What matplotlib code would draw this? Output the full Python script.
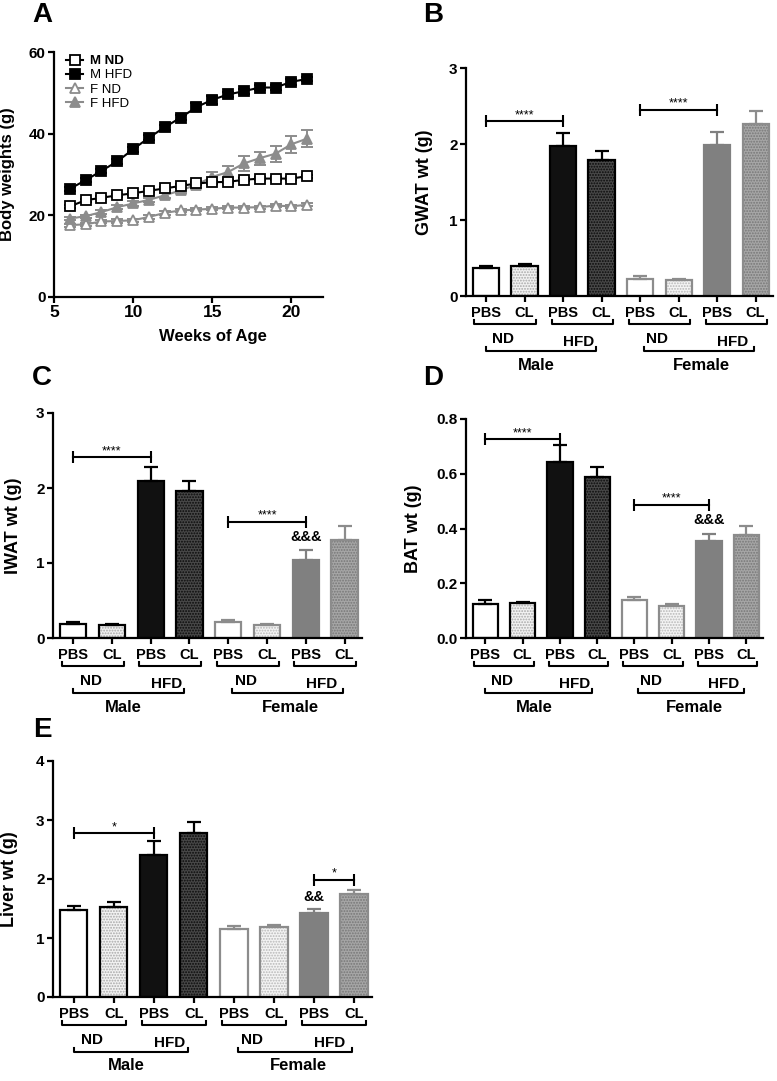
"""Body weight time course and tissue weights (PBS vs CL, ND vs HFD, male/female)."""
import matplotlib

matplotlib.use("Agg")
import matplotlib.pyplot as plt
from matplotlib.lines import Line2D
from matplotlib.ticker import FormatStrFormatter

W, H, DPI = 777, 1081, 100

# --------------------------------------------------------------------------- #
# Data
# --------------------------------------------------------------------------- #
weeks = [6, 7, 8, 9, 10, 11, 12, 13, 14, 15, 16, 17, 18, 19, 20, 21]
m_nd = [22.2, 23.7, 24.3, 24.9, 25.4, 26.0, 26.6, 27.2, 27.8, 28.1, 28.2, 28.7, 29.0, 29.0, 29.0, 29.6]
m_nd_err = [0.4, 0.4, 0.4, 0.4, 0.4, 0.4, 0.4, 0.4, 0.4, 0.4, 0.4, 0.4, 0.4, 0.4, 0.4, 0.4]
m_hfd = [26.5, 28.6, 30.9, 33.2, 36.2, 39.0, 41.6, 43.9, 46.5, 48.3, 49.6, 50.4, 51.3, 51.3, 52.7, 53.4]
m_hfd_err = [0.5, 0.5, 0.5, 0.6, 0.6, 0.6, 0.6, 0.6, 1.0, 1.0, 0.7, 0.6, 0.6, 0.6, 0.7, 0.6]
f_nd = [17.6, 17.8, 18.5, 18.6, 18.8, 19.6, 20.6, 21.2, 21.4, 21.6, 21.9, 21.9, 22.0, 22.4, 22.2, 22.6]
f_nd_err = [0.4, 0.4, 0.4, 0.4, 0.4, 0.4, 0.4, 0.4, 0.4, 0.4, 0.4, 0.4, 0.4, 0.4, 0.4, 0.4]
f_hfd = [19.2, 19.8, 20.8, 22.0, 22.9, 23.8, 24.9, 26.1, 27.5, 29.4, 30.6, 32.7, 34.0, 35.1, 37.4, 38.8]
f_hfd_err = [0.4, 0.4, 0.5, 0.5, 0.5, 0.5, 0.6, 0.7, 0.9, 1.3, 1.5, 1.8, 1.6, 2.0, 2.1, 2.0]

bar_labels = ["PBS", "CL", "PBS", "CL", "PBS", "CL", "PBS", "CL"]
diet_labels = ["ND", "HFD", "ND", "HFD"]
sex_labels = ["Male", "Female"]

gwat = [0.37, 0.40, 1.97, 1.79, 0.23, 0.21, 1.99, 2.26]
gwat_err = [0.03, 0.02, 0.17, 0.12, 0.03, 0.01, 0.17, 0.18]
iwat = [0.19, 0.17, 2.10, 1.96, 0.21, 0.18, 1.04, 1.31]
iwat_err = [0.02, 0.02, 0.18, 0.14, 0.03, 0.01, 0.14, 0.18]
bat = [0.125, 0.127, 0.642, 0.589, 0.139, 0.118, 0.356, 0.377]
bat_err = [0.012, 0.006, 0.062, 0.034, 0.011, 0.006, 0.024, 0.031]
liver = [1.48, 1.53, 2.40, 2.78, 1.16, 1.18, 1.42, 1.74]
liver_err = [0.06, 0.08, 0.25, 0.18, 0.05, 0.04, 0.07, 0.07]

# (bar i, bar j, y, label)
gwat_sig = [(0, 2, 2.30, "****"), (4, 6, 2.45, "****")]
iwat_sig = [(0, 2, 2.41, "****"), (4, 6, 1.55, "****")]
bat_sig = [(0, 2, 0.727, "****"), (4, 6, 0.487, "****")]
liver_sig = [(0, 2, 2.78, "*"), (6, 7, 1.99, "*")]
iwat_marks = [(6, 1.35, "&&&")]
bat_marks = [(6, 0.43, "&&&")]
liver_marks = [(6, 1.70, "&&")]

# --------------------------------------------------------------------------- #
# Styling
# --------------------------------------------------------------------------- #
GREY = "#8c8c8c"
bar_face = ["white", "#f2f2f2", "#111111", "#484848", "white", "#f4f4f4", "#808080", "#a6a6a6"]
bar_edge = ["black", "black", "black", "black", GREY, GREY, "#808080", GREY]
bar_dots = [None, "#a8a8a8", None, "#0a0a0a", None, "#b8b8b8", None, "#777777"]

plt.rcParams.update({
    "font.family": ["Liberation Sans", "DejaVu Sans"],
    "font.weight": "bold",
    "axes.labelweight": "bold",
    "axes.linewidth": 1.6,
    "xtick.major.width": 1.6,
    "ytick.major.width": 1.6,
    "xtick.major.size": 4,
    "ytick.major.size": 4,
    "hatch.linewidth": 0.9,
})

fig = plt.figure(figsize=(W / DPI, H / DPI), dpi=DPI)


def px_axes(left, top, right, bottom):
    return fig.add_axes([left / W, 1 - bottom / H, (right - left) / W, (bottom - top) / H])


def yfrac(ax, off):
    """Pixel offset below the x axis -> axes-fraction y."""
    return -off / (ax.get_position().height * H)


def style_axes(ax):
    ax.spines["top"].set_visible(False)
    ax.spines["right"].set_visible(False)


def panel_letter(x, y, s):
    fig.text(x / W, 1 - y / H, s, fontsize=20, fontweight="bold", ha="center", va="center")


# --------------------------------------------------------------------------- #
# A: body weight curves
# --------------------------------------------------------------------------- #
axA = px_axes(54, 52, 323, 297)
style_axes(axA)
series = [
    (f_nd, f_nd_err, GREY, "^", "white", "F ND"),
    (f_hfd, f_hfd_err, GREY, "^", GREY, "F HFD"),
    (m_nd, m_nd_err, "black", "s", "white", "M ND"),
    (m_hfd, m_hfd_err, "black", "s", "black", "M HFD"),
]
handles = {}
for vals, errs, col, mk, face, lab in series:
    axA.errorbar(weeks, vals, yerr=errs, fmt="none", ecolor=col, elinewidth=1.4,
                 capsize=4, capthick=1.4, zorder=2)
    axA.plot(weeks, vals, color=col, lw=1.5, marker=mk, ms=6.5,
             mfc=face, mec=col, mew=1.3, zorder=3)
    handles[lab] = Line2D([], [], color=col, lw=1.5, marker=mk, ms=6.5,
                          mfc=face, mec=col, mew=1.3)
axA.set_xlim(5, 22)
axA.set_ylim(0, 60)
axA.set_xticks([5, 10, 15, 20])
axA.set_yticks([0, 20, 40, 60])
axA.tick_params(axis="x", labelsize=12.5, pad=2)
axA.tick_params(axis="y", labelsize=11, pad=2)
axA.set_ylabel("Body weights (g)", fontsize=12)
axA.yaxis.set_label_coords((15 - 54) / 269, 0.5)
fig.text(213 / W, 1 - 337 / H, "Weeks of Age", fontsize=12, fontweight="bold",
         ha="center", va="center")
order = ["M ND", "M HFD", "F ND", "F HFD"]
leg = axA.legend([handles[k] for k in order], order, loc="upper left",
                 bbox_to_anchor=(66 / W, 1 - 55 / H), bbox_transform=fig.transFigure,
                 frameon=False, fontsize=9.5, handlelength=1.3, handletextpad=0.5,
                 labelspacing=0.15, borderpad=0, borderaxespad=0, numpoints=1)
for i, t in enumerate(leg.get_texts()):
    t.set_fontweight("bold" if i == 0 else "normal")


# --------------------------------------------------------------------------- #
# Bar panels
# --------------------------------------------------------------------------- #
def bar_panel(ax, vals, errs, ymax, yticks, ylabel, label_dx, sig, marks, fmt=None):
    style_axes(ax)
    xs = list(range(len(vals)))
    width = 0.68
    for i, (v, e) in enumerate(zip(vals, errs)):
        ax.bar(xs[i], v, width, color=bar_face[i], lw=0, zorder=2)
        if bar_dots[i]:
            ax.bar(xs[i], v, width, color="none", edgecolor=bar_dots[i], hatch="......",
                   lw=0, zorder=2.2)
        ax.bar(xs[i], v, width, fill=False, edgecolor=bar_edge[i], lw=1.6, zorder=2.5)
        ax.errorbar(xs[i], v, yerr=[[0], [e]], fmt="none", ecolor=bar_edge[i],
                    elinewidth=1.6, capsize=5, capthick=1.6, zorder=2.4)

    ax.set_xlim(-0.52, 7.45)
    ax.set_ylim(0, ymax)
    ax.set_yticks(yticks)
    if fmt:
        ax.yaxis.set_major_formatter(FormatStrFormatter(fmt))
    ax.set_xticks(xs)
    ax.set_xticklabels(bar_labels)
    ax.tick_params(axis="x", labelsize=10.5, pad=3)
    ax.tick_params(axis="y", labelsize=11, pad=2)
    ax.set_ylabel(ylabel, fontsize=13)
    pos = ax.get_position()
    ax.yaxis.set_label_coords(label_dx / (pos.width * W), 0.5)

    # significance bars
    for i, j, y, s in sig:
        ax.plot([i, j], [y, y], color="black", lw=1.5, zorder=4)
        ax.plot([i, j], [y, y], ls="none", marker="|", ms=8, mew=1.5, color="black", zorder=4)
        ax.annotate(s, xy=((i + j) / 2, y), xytext=(0, 0), textcoords="offset points",
                    ha="center", va="bottom", fontsize=9, fontweight="normal")
    for i, y, s in marks:
        ax.text(i, y, s, ha="center", va="center", fontsize=10.5, fontweight="bold")

    # grouping brackets below the axis
    tr = ax.get_xaxis_transform()
    for k in range(4):
        a, b = 2 * k - 0.3, 2 * k + 1.3
        y0, y1 = yfrac(ax, 28), yfrac(ax, 24)
        ax.plot([a, a, b, b], [y1, y0, y0, y1], color="black", lw=1.5,
                transform=tr, clip_on=False)
        xlab = 2 * k + 0.45 if k % 2 == 0 else 2 * k + 0.4
        off = 43 if k % 2 == 0 else 46
        ax.text(xlab, yfrac(ax, off), diet_labels[k], transform=tr, ha="center",
                va="center", fontsize=11, fontweight="bold")
    for k, (a, b, xc) in enumerate([(0.0, 2.85, 1.3), (4.1, 6.95, 5.6)]):
        y0, y1 = yfrac(ax, 55), yfrac(ax, 51)
        ax.plot([a, a, b, b], [y1, y0, y0, y1], color="black", lw=1.5,
                transform=tr, clip_on=False)
        ax.text(xc, yfrac(ax, 69), sex_labels[k], transform=tr, ha="center",
                va="center", fontsize=12, fontweight="bold")


axB = px_axes(466, 68, 773, 296)
bar_panel(axB, gwat, gwat_err, 3, [0, 1, 2, 3], "GWAT wt (g)", -33, gwat_sig, [])
axC = px_axes(53, 413, 362, 638)
bar_panel(axC, iwat, iwat_err, 3, [0, 1, 2, 3], "IWAT wt (g)", -31, iwat_sig, iwat_marks)
axD = px_axes(466, 419, 763, 638)
bar_panel(axD, bat, bat_err, 0.8, [0.0, 0.2, 0.4, 0.6, 0.8], "BAT wt (g)", -44,
          bat_sig, bat_marks, fmt="%.1f")
axE = px_axes(53, 761, 372, 997)
bar_panel(axE, liver, liver_err, 4, [0, 1, 2, 3, 4], "Liver wt (g)", -35, liver_sig,
          liver_marks)

panel_letter(42, 15, "A")
panel_letter(433, 15, "B")
panel_letter(42, 378, "C")
panel_letter(433, 378, "D")
panel_letter(42, 730, "E")

fig.savefig("out.png", dpi=DPI)
plt.close(fig)
